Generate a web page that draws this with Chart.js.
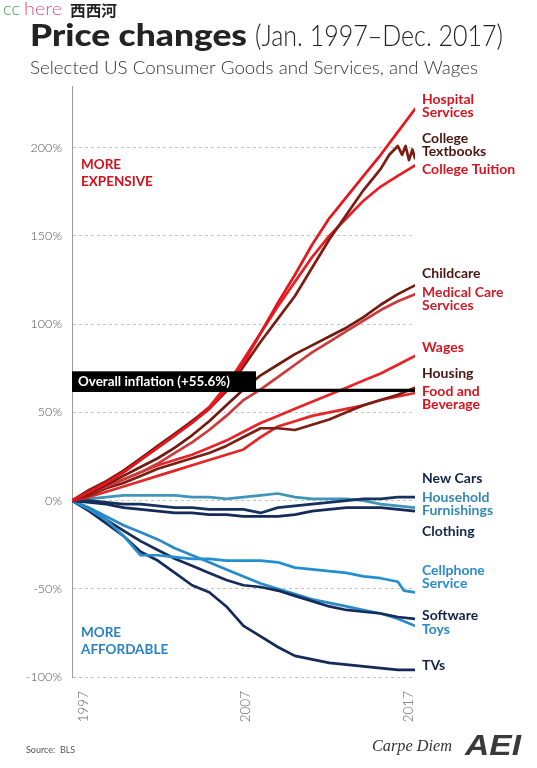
<!DOCTYPE html>
<html>
<head>
<meta charset="utf-8">
<script src="https://cdn.jsdelivr.net/npm/chart.js@4.4.1/dist/chart.umd.min.js"></script>
<style>
  html, body { margin: 0; padding: 0; background: #fff; }
  canvas { display: block; }
</style>
</head>
<body>
<canvas id="chart" width="537" height="768"></canvas>
<script>
// % change in price since Jan. 1997 (one point per year)
const years = [1997, 1998, 1999, 2000, 2001, 2002, 2003, 2004, 2005, 2006, 2007,
               2008, 2009, 2010, 2011, 2012, 2013, 2014, 2015, 2016, 2017];
// textbooks and cellphones get a few extra points where the curve jumps at the end
const textbookYears = [1997, 1998, 1999, 2000, 2001, 2002, 2003, 2004, 2005, 2006, 2007,
                       2008, 2009, 2010, 2011, 2012, 2013, 2014, 2015, 2015.5, 2016,
                       2016.25, 2016.45, 2016.65, 2016.85, 2017];
const cellphoneYears = [1997, 1998, 1999, 2000, 2001, 2002, 2003, 2004, 2005, 2006, 2007,
                        2008, 2009, 2010, 2011, 2012, 2013, 2014, 2015, 2016, 2016.35, 2017];

const hospitalServices = [0, 5, 10, 16, 23, 30, 37, 44, 52, 63, 78, 95, 112, 128, 145, 160, 172, 184, 196, 209, 222];
const collegeTextbooks = [0, 6, 11, 17, 24, 31, 38, 45, 52, 62, 76, 90, 103, 116, 132, 148, 162, 176, 188, 196, 201,
                          196, 201, 193, 199, 194];
const collegeTuition   = [0, 5, 10, 16, 23, 30, 37, 45, 53, 65, 80, 95, 110, 124, 138, 150, 160, 170, 178, 184, 190];
const childcare        = [0, 4, 9, 14, 19, 24, 30, 37, 45, 54, 63, 71, 77, 83, 88, 93, 98, 104, 111, 117, 122];
const medicalCare      = [0, 4, 8, 12, 16, 21, 27, 33, 40, 48, 57, 63, 70, 77, 84, 90, 96, 102, 108, 113, 117];
const wages            = [0, 4, 8, 12, 16, 20, 23, 26, 30, 34, 39, 44, 48, 52, 56, 60, 64, 68, 72, 77, 82];
const housing          = [0, 3, 7, 10, 14, 18, 21, 24, 27, 31, 36, 41, 41, 40, 43, 46, 50, 54, 57, 60, 64];
const foodBeverage     = [0, 2, 5, 8, 11, 14, 17, 20, 23, 26, 29, 36, 42, 45, 48, 50, 52, 54, 57, 59, 61];
const newCars          = [0, 0, -1, -2, -2, -3, -4, -4, -5, -5, -5, -7, -4, -3, -2, -1, 0, 1, 1, 2, 2];
const furnishings      = [0, 1, 2, 3, 3, 3, 3, 2, 2, 1, 2, 3, 4, 2, 1, 1, 1, 0, -2, -3, -4];
const clothing         = [0, -1, -2, -4, -5, -6, -7, -7, -8, -8, -9, -9, -9, -8, -6, -5, -4, -4, -4, -5, -6];
const cellphone        = [0, -5, -11, -20, -31, -31, -32, -33, -33, -34, -34, -34, -35, -38, -39, -40, -41, -43, -44, -46,
                          -51, -52];
const software         = [0, -5, -11, -17, -23, -28, -33, -37, -41, -45, -48, -49, -51, -54, -57, -60, -62, -63, -64, -66, -67];
const toys             = [0, -4, -9, -14, -18, -22, -27, -31, -35, -39, -43, -47, -50, -53, -56, -58, -60, -62, -64, -67, -71];
const tvs              = [0, -6, -13, -20, -29, -34, -41, -48, -52, -60, -71, -77, -83, -88, -90, -92, -93, -94, -95, -96, -96];

const inflationLevel = 62.5;
const inflationText = 'Overall inflation (+55.6%)';

const seriesValues = [hospitalServices, collegeTextbooks, collegeTuition, childcare, medicalCare,
  wages, housing, foodBeverage, newCars, furnishings, clothing, cellphone, software, toys, tvs];
const seriesYears = [years, textbookYears, years, years, years, years, years, years,
  years, years, years, cellphoneYears, years, years, years];
const labelLines = [['Hospital', 'Services'], ['College', 'Textbooks'], ['College Tuition'], ['Childcare'],
  ['Medical Care', 'Services'], ['Wages'], ['Housing'], ['Food and', 'Beverage'], ['New Cars'],
  ['Household', 'Furnishings'], ['Clothing'], ['Cellphone', 'Service'], ['Software'], ['Toys'], ['TVs']];
const lineColors = ['#e5161e', '#7c1c12', '#e81e25', '#701b10', '#cc3a3e', '#e8242a', '#7a1d12', '#e42626',
  '#16305f', '#3f95b9', '#142b5a', '#2290cf', '#152c5b', '#2a8ac7', '#142a58'];
const textColors = ['#d7141e', '#4a1510', '#d7141e', '#4a1510', '#c8202a', '#d7141e', '#4a1510', '#d7141e',
  '#12234a', '#3389b0', '#12234a', '#2a8ac8', '#12234a', '#2a8ac8', '#12234a'];
// where each end label sits, in axis units
const labelAt = [227.6, 205.5, 187.4, 129, 118.2, 87, 72.3, 62.1, 12.8, 2, -17.3, -39.5, -65.1, -73, -93.4];

const yearTickAt = [1997.7, 2007.15, 2016.65];
const yearLabels = ['1997', '2007', '2017'];

const datasets = [{
  data: [{ x: years[0], y: inflationLevel }, { x: years[years.length - 1], y: inflationLevel }],
  borderColor: '#000', borderWidth: 3.2
}].concat(seriesValues.map((vals, i) => ({
  data: vals.map((v, j) => ({ x: seriesYears[i][j], y: v })),
  borderColor: lineColors[i],
  borderWidth: 2.7
})));

// draw text squeezed or stretched to a given width
function fitText(ctx, text, x, y, width) {
  const w = ctx.measureText(text).width;
  ctx.save();
  ctx.translate(x, y);
  ctx.scale(width / w, 1);
  ctx.fillText(text, 0, 0);
  ctx.restore();
}

const overlay = {
  id: 'overlay',
  beforeDraw(chart) {
    const ctx = chart.ctx;
    ctx.save();
    ctx.fillStyle = '#fff';
    ctx.fillRect(0, 0, chart.width, chart.height);
    ctx.restore();
  },
  afterDatasetsDraw(chart) {
    const { ctx, scales: { x, y } } = chart;
    const by = y.getPixelForValue(inflationLevel);
    ctx.save();
    ctx.fillStyle = '#000';
    ctx.fillRect(x.left, by - 19, 184, 19);
    ctx.fillStyle = '#fff';
    ctx.font = 'bold 13.4px Lato';
    ctx.textBaseline = 'middle';
    ctx.fillText(inflationText, x.left + 6, by - 9);
    ctx.restore();
  },
  afterDraw(chart) {
    const { ctx, scales: { x, y } } = chart;
    ctx.save();
    ctx.textBaseline = 'alphabetic';

    // watermark
    ctx.font = '300 18px Lato';
    ctx.fillStyle = '#4a9a50';
    fitText(ctx, 'cc', 3, 15, 17);
    ctx.fillStyle = '#e0508a';
    fitText(ctx, 'here', 24, 15, 38);
    ctx.fillStyle = '#222';
    ctx.font = 'bold 15px "Noto Sans CJK SC"';
    fitText(ctx, '西西河', 70, 16, 47);

    // title
    ctx.fillStyle = '#232323';
    ctx.font = '900 30px Lato';
    fitText(ctx, 'Price changes', 30, 46, 217);
    ctx.font = '300 29px Lato';
    fitText(ctx, '(Jan. 1997\u2013Dec. 2017)', 255, 46, 248);
    ctx.fillStyle = '#333';
    ctx.font = '300 18.5px Lato';
    fitText(ctx, 'Selected US Consumer Goods and Services, and Wages', 30, 74, 448);

    // end labels
    ctx.textBaseline = 'middle';
    ctx.font = 'bold 14px Lato';
    labelLines.forEach((lines, i) => {
      const ly = y.getPixelForValue(labelAt[i]);
      ctx.fillStyle = textColors[i];
      lines.forEach((t, k) => ctx.fillText(t, x.right + 7, ly + k * 13.5));
    });

    // side notes
    ctx.font = 'bold 13.5px Lato';
    ctx.fillStyle = '#d0101a';
    ctx.fillText('MORE', x.left + 9, 165);
    ctx.fillText('EXPENSIVE', x.left + 9, 182);
    ctx.fillStyle = '#2a80c0';
    ctx.fillText('MORE', x.left + 9, 633);
    ctx.fillText('AFFORDABLE', x.left + 9, 650);

    // footer
    ctx.textBaseline = 'alphabetic';
    ctx.fillStyle = '#555';
    ctx.font = '9px Lato';
    ctx.fillText('Source:  BLS', 26, 753);
    ctx.fillStyle = '#333';
    ctx.font = 'italic 17px "Liberation Serif"';
    fitText(ctx, 'Carpe Diem', 372, 751, 80);
    ctx.fillStyle = '#3a3a3a';
    ctx.font = 'italic 900 30px "Liberation Sans"';
    fitText(ctx, 'AEI', 465, 755, 56);
    ctx.restore();
  }
};

new Chart(document.getElementById('chart'), {
  type: 'line',
  data: { datasets },
  options: {
    responsive: false,
    devicePixelRatio: 1,
    animation: false,
    layout: { padding: { left: 0, right: 122, top: 86, bottom: 46 } },
    elements: {
      point: { radius: 0 },
      line: { tension: 0, fill: false, borderCapStyle: 'round', borderJoinStyle: 'round' }
    },
    plugins: { legend: { display: false }, tooltip: { enabled: false } },
    scales: {
      x: {
        type: 'linear', min: 1997, max: 2017,
        afterBuildTicks: s => { s.ticks = yearTickAt.map(v => ({ value: v })); },
        afterFit: s => { s.height = 45; },
        grid: { display: false },
        border: { display: false },
        ticks: {
          minRotation: 90, maxRotation: 90, autoSkip: false, padding: 6,
          color: '#666', font: { family: 'Lato', size: 13.5, weight: '300' },
          callback: (v, i) => yearLabels[i]
        }
      },
      y: {
        min: -100, max: 235,
        afterFit: s => { s.width = 72; },
        ticks: {
          stepSize: 50, includeBounds: false, padding: 10,
          color: '#555', font: { family: 'Lato', size: 12.5, weight: '300' },
          callback: v => v + '%'
        },
        grid: { color: '#c4c4c4', drawTicks: false },
        border: { display: true, color: '#9a9a9a', dash: [3, 3] }
      }
    }
  },
  plugins: [overlay]
});
</script>
</body>
</html>
